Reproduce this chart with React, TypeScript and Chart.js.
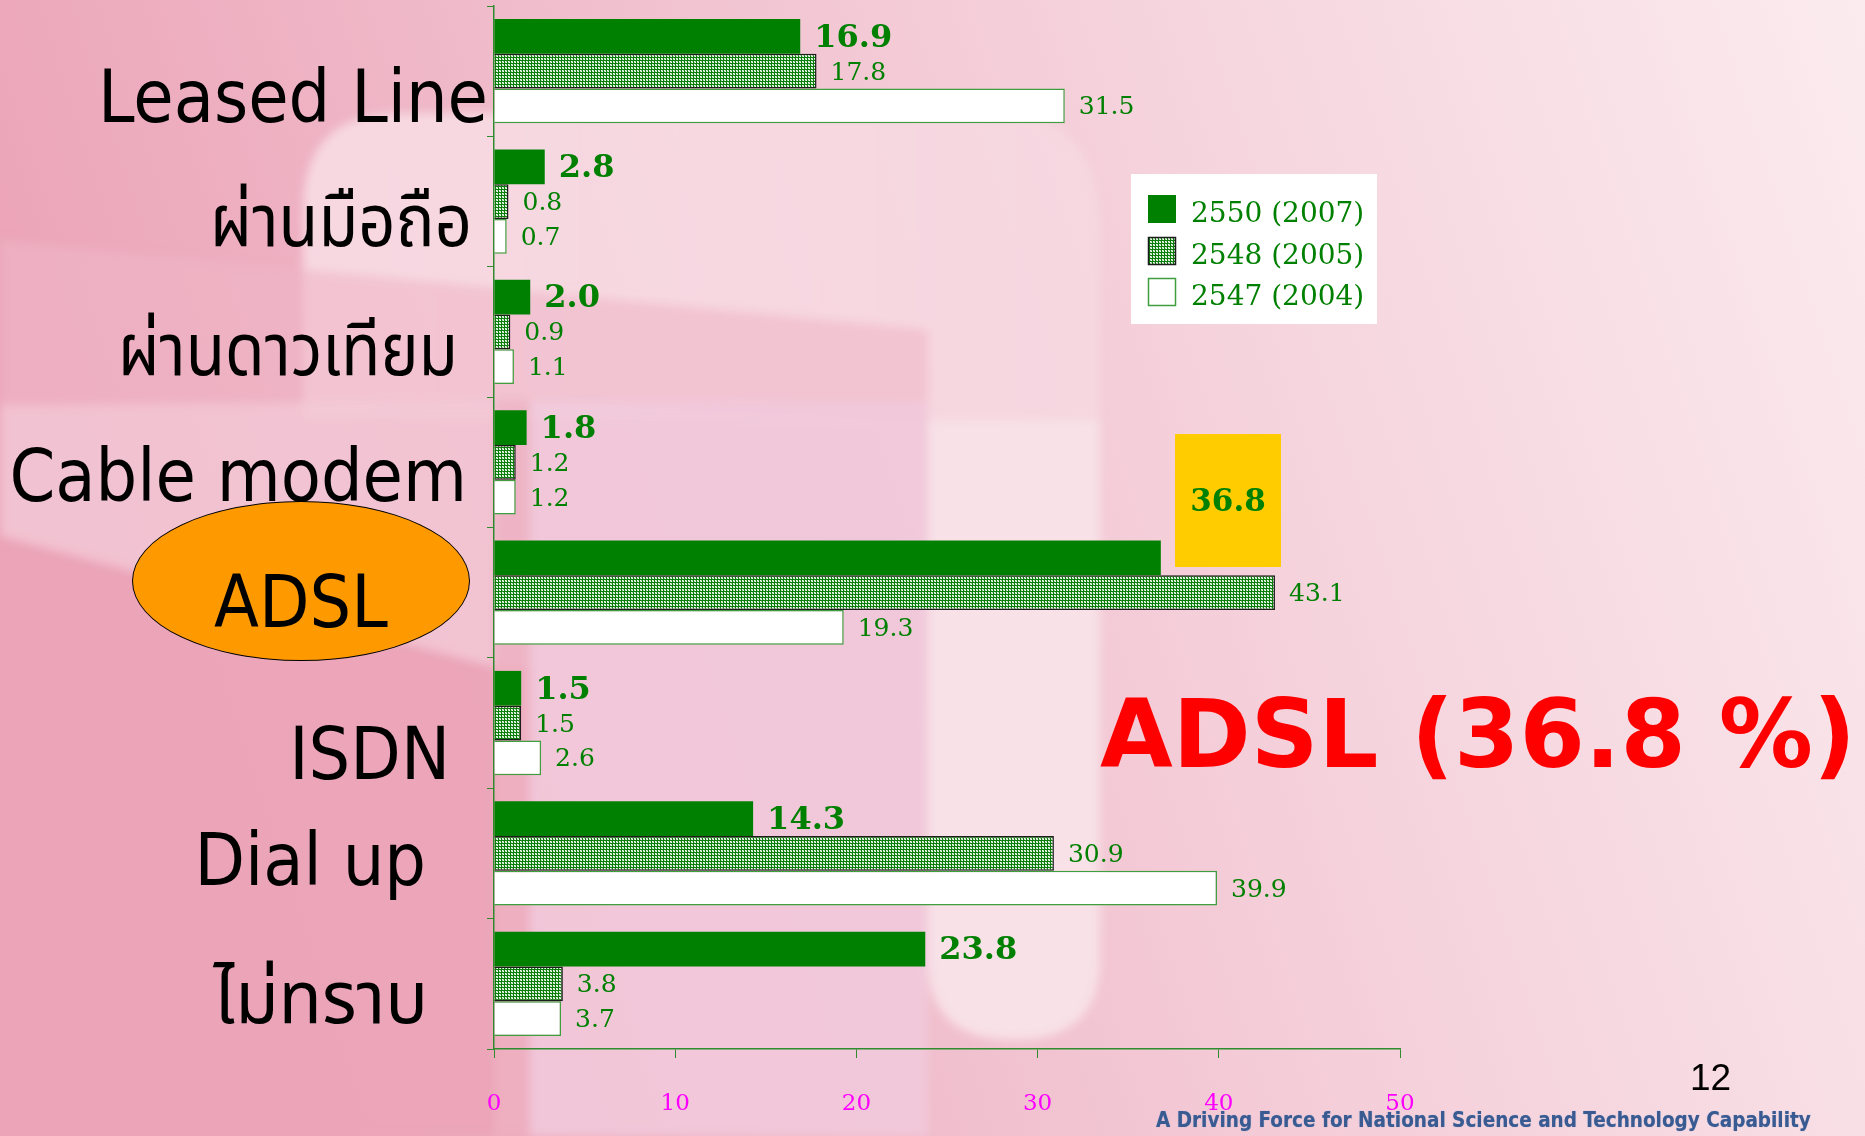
import React, { useEffect, useRef } from "react";
import { Chart, registerables } from "chart.js";
Chart.register(...registerables);

const categories = ["Leased Line", "ผ่านมือถือ", "ผ่านดาวเทียม", "Cable modem", "ADSL", "ISDN", "Dial up", "ไม่ทราบ"];
const seriesLabels = ["2550 (2007)", "2548 (2005)", "2547 (2004)"];
const values2550 = [16.9, 2.8, 2.0, 1.8, 36.8, 1.5, 14.3, 23.8];
const values2548 = [17.8, 0.8, 0.9, 1.2, 43.1, 1.5, 30.9, 3.8];
const values2547 = [31.5, 0.7, 1.1, 1.2, 19.3, 2.6, 39.9, 3.7];
const xTicks = [0, 10, 20, 30, 40, 50];
const highlightIndex = 4;

// layout tweaks for the category labels (gap from axis, baseline offset, horizontal squeeze)
const labelGap = [6, 22, 36, 27, 0, 44, 68, 66];
const labelDy = [51, 44, 43, 39, 34, 56, 32, 39];
const labelSqueeze = [1, 0.89, 0.88, 1, 1, 1, 1, 0.97];

const LABEL_FONT = '"DejaVu Sans Condensed", "DejaVu Sans", "Noto Sans Thai", Loma, Garuda, sans-serif';
const SERIF = '"DejaVu Serif", "Liberation Serif", serif';
const GREEN = "#008000";

export default function App() {
  const ref = useRef<HTMLCanvasElement>(null);
  useEffect(() => {
    const canvas = ref.current!;
    const pc = document.createElement("canvas");
    pc.width = 3;
    pc.height = 3;
    const p = pc.getContext("2d")!;
    p.fillStyle = "#0b7d0b";
    p.fillRect(0, 0, 3, 3);
    p.fillStyle = "#ffffff";
    p.fillRect(1, 1, 1, 1);
    p.fillRect(2, 2, 1, 1);
    p.fillStyle = "#a6d8a6";
    p.fillRect(2, 1, 1, 1);
    p.fillRect(1, 2, 1, 1);
    const ctx = canvas.getContext("2d")!;
    const pattern = ctx.createPattern(pc, "repeat")!;

    const labelsPlugin = {
      id: "catLabels",
      afterDraw(chart: any) {
        const c = chart.ctx;
        const ys = chart.scales.y;
        const left = chart.chartArea.left;
        c.save();
        c.fillStyle = "#000";
        c.font = `normal 73px ${LABEL_FONT}`;
        c.textBaseline = "alphabetic";
        categories.forEach((name, i) => {
          const y = ys.getPixelForValue(i) + labelDy[i];
          const k = labelSqueeze[i];
          c.save();
          if (i === highlightIndex) {
            c.textAlign = "center";
            c.translate(301, y);
          } else {
            c.textAlign = "right";
            c.translate(left - labelGap[i], y);
          }
          c.scale(k, 1);
          c.fillText(name, 0, 0);
          c.restore();
        });
        c.restore();
      },
    };

    const valuePlugin = {
      id: "valueLabels",
      afterDatasetsDraw(chart: any) {
        const c = chart.ctx;
        c.save();
        c.fillStyle = GREEN;
        c.textAlign = "left";
        c.textBaseline = "middle";
        chart.data.datasets.forEach((ds: any, di: number) => {
          const meta = chart.getDatasetMeta(di);
          c.font = di === 0 ? `bold 32px ${SERIF}` : `normal 25px ${SERIF}`;
          meta.data.forEach((el: any, j: number) => {
            if (di === 0 && j === highlightIndex) return;
            c.fillText(ds.data[j].toFixed(1), el.x + 14, el.y + 2);
          });
        });
        // highlight box
        c.fillStyle = "#ffcc00";
        c.fillRect(1175, 434, 106, 133);
        c.fillStyle = GREEN;
        c.font = `bold 31px ${SERIF}`;
        c.textAlign = "center";
        c.fillText(values2550[highlightIndex].toFixed(1), 1228, 503);
        // legend
        c.fillStyle = "#ffffff";
        c.fillRect(1131, 174, 246, 150);
        const ys = [195, 237, 278];
        chart.data.datasets.forEach((ds: any, di: number) => {
          const y = ys[di];
          c.fillStyle = ds.backgroundColor;
          c.fillRect(1148, y, 28, 28);
          if (ds.borderWidth) {
            c.strokeStyle = ds.borderColor;
            c.lineWidth = 1.5;
            c.strokeRect(1148.5, y + 0.5, 27, 27);
          }
          c.fillStyle = GREEN;
          c.font = `normal 28px ${SERIF}`;
          c.textAlign = "left";
          c.fillText(ds.label, 1191, y + 20);
        });
        c.restore();
      },
    };

    const chart = new Chart(canvas, {
      type: "bar",
      data: {
        labels: categories,
        datasets: [
          { label: seriesLabels[0], data: values2550, backgroundColor: GREEN, borderWidth: 0 },
          { label: seriesLabels[1], data: values2548, backgroundColor: pattern as any, borderColor: "#1c1c1c", borderWidth: 1.5 },
          { label: seriesLabels[2], data: values2547, backgroundColor: "#ffffff", borderColor: "#3f9f3f", borderWidth: 1.5 },
        ],
      },
      options: {
        indexAxis: "y",
        responsive: false,
        animation: false,
        layout: { padding: { top: 6, right: 465, left: 0, bottom: 0 } },
        datasets: { bar: { categoryPercentage: 0.8, barPercentage: 1.0 } },
        plugins: { legend: { display: false }, tooltip: { enabled: false } },
        scales: {
          x: {
            min: 0,
            max: 50,
            afterBuildTicks: (s: any) => {
              s.ticks = xTicks.map((v) => ({ value: v }));
            },
            ticks: { color: "#ff00ff", font: { family: SERIF, size: 23 }, padding: 32 },
            grid: { drawOnChartArea: false, color: "#2e8b2e", tickLength: 9 },
            border: { color: "#2e8b2e", width: 1.5 },
            afterFit: (s: any) => {
              s.height = 87;
            },
          },
          y: {
            ticks: { display: false },
            grid: { drawOnChartArea: false, color: "#2e8b2e", tickLength: 7, offset: true },
            border: { color: "#2e8b2e", width: 1.5 },
            afterFit: (s: any) => {
              s.width = 494;
            },
          },
        },
      } as any,
      plugins: [labelsPlugin, valuePlugin],
    });
    return () => chart.destroy();
  }, []);

  const abs: React.CSSProperties = { position: "absolute" };
  return (
    <div style={{ ...abs, left: 0, top: 0, width: 1865, height: 1136, overflow: "hidden" }}>
      <svg width={1865} height={1136} style={{ ...abs, left: 0, top: 0 }}>
        <defs>
          <linearGradient id="bg" x1="0" y1="0.2" x2="1" y2="0">
            <stop offset="0" stopColor="#eca5b9" />
            <stop offset="0.3" stopColor="#f0bccb" />
            <stop offset="0.6" stopColor="#f5d2dc" />
            <stop offset="1" stopColor="#fbebee" />
          </linearGradient>
          <linearGradient id="lt" x1="0" y1="0" x2="1" y2="0">
            <stop offset="0" stopColor="#f9e4ea" />
            <stop offset="1" stopColor="#f6d9e1" />
          </linearGradient>
          <filter id="soft" x="-5%" y="-5%" width="110%" height="110%">
            <feGaussianBlur stdDeviation="5" />
          </filter>
        </defs>
        <rect x={0} y={0} width={1865} height={1136} fill="url(#bg)" />
        <g filter="url(#soft)">
          <path d="M303,420 L303,210 Q303,113 400,113 L1000,113 Q1100,113 1100,230 L1100,960 Q1100,1040 1014,1040 Q928,1040 928,960 L928,420 Z" fill="url(#lt)" opacity={0.75} />
          <polygon points="0,240 928,330 928,420 494,400 0,405" fill="#efb6c7" opacity={0.6} />
          <polygon points="0,405 494,400 530,400 530,667 494,667 0,536" fill="#f2c7d5" opacity={0.85} />
          <polygon points="0,536 494,667 530,667 530,1136 0,1136" fill="#eba4b8" opacity={0.9} />
          <rect x={494} y={400} width={36} height={736} fill="#eeb0c2" opacity={0.8} />
          <rect x={530} y={400} width={398} height={736} fill="#f1c9da" opacity={0.9} />
          <path d="M928,420 L1100,420 L1100,960 Q1100,1040 1014,1040 Q928,1040 928,960 Z" fill="#f8e2e8" opacity={0.9} />
        </g>
      </svg>
      <div style={{ ...abs, left: 132, top: 501, width: 338, height: 160, boxSizing: "border-box", borderRadius: "50%", background: "#ff9900", border: "1.5px solid #000" }} />
      <canvas ref={ref} width={1865} height={1136} style={{ ...abs, left: 0, top: 0, width: 1865, height: 1136 }} />
      <div style={{ ...abs, left: 1100, top: 680, fontFamily: '"DejaVu Sans", sans-serif', fontWeight: "bold", fontSize: 94, color: "#ff0000", whiteSpace: "nowrap", lineHeight: "110px" }}>ADSL (36.8 %)</div>
      <div style={{ ...abs, left: 1690, top: 1058, fontFamily: '"Liberation Sans", Arial, sans-serif', fontSize: 37, color: "#000", lineHeight: "40px" }}>12</div>
      <div style={{ ...abs, left: 1156, top: 1107, fontFamily: '"DejaVu Sans Condensed", "DejaVu Sans", sans-serif', fontWeight: "bold", fontSize: 20.5, color: "#3a5a92", whiteSpace: "nowrap", lineHeight: "26px", letterSpacing: "0px", textShadow: "0 0 1px #8aa0c8" }}>A Driving Force for National Science and Technology Capability</div>
    </div>
  );
}
